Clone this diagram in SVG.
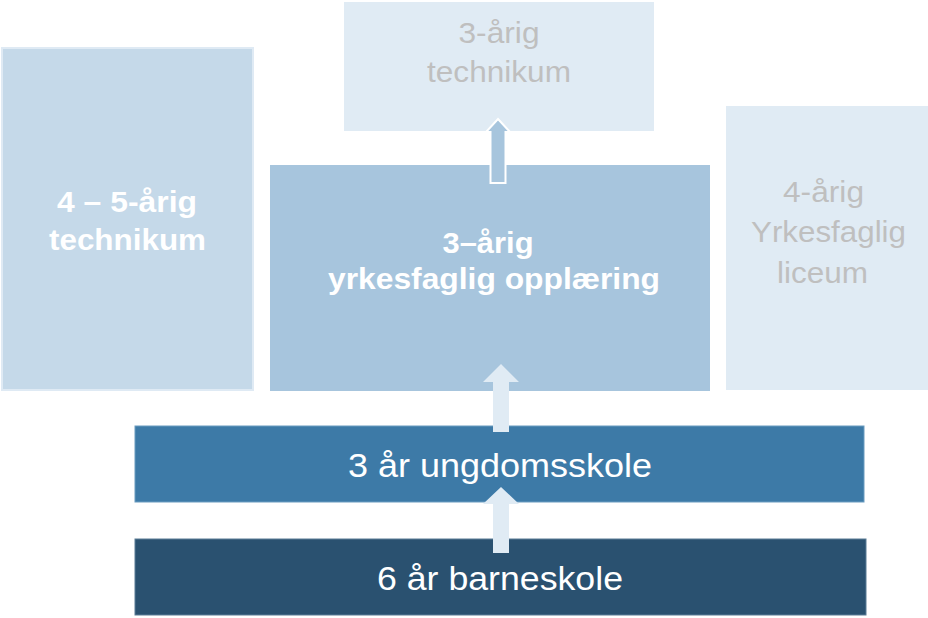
<svg xmlns="http://www.w3.org/2000/svg" width="928" height="618" viewBox="0 0 928 618">
<style>
.t{font-family:"Liberation Sans",Arial,sans-serif;text-anchor:middle}
.b{font-weight:bold;fill:#ffffff;font-size:30px}
.g{fill:#bfbfbf;font-size:30px}
.w{fill:#ffffff;font-size:34px}
</style>
<rect width="928" height="618" fill="#ffffff"/>
<g id="n-left">
<rect x="2" y="48" width="251" height="342" fill="#c5d9e9" stroke="#dfeaf4" stroke-width="2"/>
<text class="t b" x="127" y="212" textLength="140" lengthAdjust="spacingAndGlyphs">4 – 5-årig</text>
<text class="t b" x="127.5" y="250" textLength="157" lengthAdjust="spacingAndGlyphs">technikum</text>
</g>
<g id="n-top">
<rect x="344" y="2" width="310" height="129" fill="#e0ebf4"/>
<text class="t g" x="499" y="43" textLength="81" lengthAdjust="spacingAndGlyphs">3-årig</text>
<text class="t g" x="499" y="82" textLength="144" lengthAdjust="spacingAndGlyphs">technikum</text>
</g>
<g id="n-mid">
<rect x="270" y="165" width="440" height="226" fill="#a7c5dd"/>
<text class="t b" x="488" y="253" textLength="91" lengthAdjust="spacingAndGlyphs">3–årig</text>
<text class="t b" x="494" y="289" textLength="332" lengthAdjust="spacingAndGlyphs">yrkesfaglig opplæring</text>
</g>
<g id="n-right">
<rect x="726" y="106" width="202" height="284" fill="#e0ebf4"/>
<text class="t g" x="823.5" y="202" textLength="81" lengthAdjust="spacingAndGlyphs">4-årig</text>
<text class="t g" x="828.5" y="242" textLength="155" lengthAdjust="spacingAndGlyphs">Yrkesfaglig</text>
<text class="t g" x="822.5" y="283" textLength="91" lengthAdjust="spacingAndGlyphs">liceum</text>
</g>
<g id="n-ungdom">
<rect x="135" y="426" width="729" height="76" fill="#3d7aa7" stroke="#6b9cc0" stroke-width="1"/>
<text class="t w" x="500" y="477" textLength="304" lengthAdjust="spacingAndGlyphs">3 år ungdomsskole</text>
</g>
<g id="n-barne">
<rect x="135" y="539" width="731" height="76" fill="#2a5170" stroke="#5a7c96" stroke-width="1"/>
<text class="t w" x="500" y="590" textLength="246" lengthAdjust="spacingAndGlyphs">6 år barneskole</text>
</g>
<g id="connectors">
<polygon points="498,119 510,132 505.5,132 505.5,183 490.5,183 490.5,132 486,132" fill="#a7c5dd" stroke="#ffffff" stroke-width="2"/>
<polygon points="501,364 519,382 509,382 509,432 493,432 493,382 483,382" fill="#e0ebf4"/>
<polygon points="501,487 519,504 509,504 509,553 493,553 493,504 483,504" fill="#e0ebf4"/>
</g>
</svg>
